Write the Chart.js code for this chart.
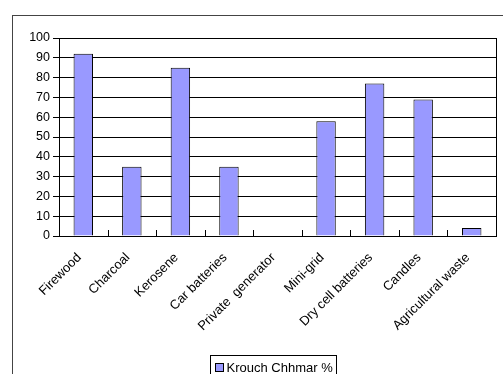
<!DOCTYPE html>
<html>
<head>
<meta charset="utf-8">
<script src="https://cdn.jsdelivr.net/npm/chart.js@4"></script>
<style>
  body { margin: 0; background: #fff; }
  #wrap { width: 503px; height: 374px; }
</style>
</head>
<body>
<div id="wrap"><canvas id="chart" width="503" height="374"></canvas></div>
<script>
// Dados do gráfico
const categories = ['Firewood', 'Charcoal', 'Kerosene', 'Car batteries', 'Private  generator',
  'Mini-grid', 'Dry cell batteries', 'Candles', 'Agricultural waste'];
const seriesName = 'Krouch Chhmar %';
const values = [92, 35, 85, 35, 0, 58, 77, 69, 4];
const yTicks = [0, 10, 20, 30, 40, 50, 60, 70, 80, 90, 100];

const FONT = 'Liberation Sans, Arial, sans-serif';

// moldura externa, borda da área do gráfico, marcas internas do eixo x e legenda
const decor = {
  id: 'decor',
  beforeDraw(chart) {
    const ctx = chart.ctx;
    ctx.save();
    ctx.strokeStyle = '#444';
    ctx.lineWidth = 1;
    ctx.strokeRect(12.5, 15.5, 520, 400);
    ctx.restore();
  },
  afterDraw(chart) {
    const ctx = chart.ctx;
    const a = chart.chartArea;
    const x = chart.scales.x;
    ctx.save();
    ctx.strokeStyle = '#000';
    ctx.lineWidth = 1;
    ctx.strokeRect(Math.round(a.left) + 0.5, Math.round(a.top) + 0.5,
      Math.round(a.right - a.left), Math.round(a.bottom - a.top));
    ctx.beginPath();
    for (let i = 1; i < categories.length; i++) {
      const px = Math.round(x.getPixelForValue(i - 0.5)) + 0.5;
      ctx.moveTo(px, a.bottom);
      ctx.lineTo(px, a.bottom - 6);
    }
    ctx.stroke();

    // legenda
    const ds = chart.data.datasets[0];
    ctx.font = '13px ' + FONT;
    const tw = ctx.measureText(ds.label).width;
    const boxW = tw + 20;
    const bx = 210.5;
    const by = 355.5;
    ctx.strokeStyle = '#000';
    ctx.strokeRect(bx, by, Math.round(boxW), 30);
    ctx.fillStyle = ds.backgroundColor;
    ctx.fillRect(bx + 5, by + 8, 8, 8);
    ctx.strokeRect(bx + 5, by + 8, 8, 8);
    ctx.fillStyle = '#000';
    ctx.textBaseline = 'middle';
    ctx.fillText(ds.label, bx + 16, by + 12.5);
    ctx.restore();
  }
};

new Chart(document.getElementById('chart').getContext('2d'), {
  type: 'bar',
  data: {
    labels: categories,
    datasets: [{
      label: seriesName,
      data: values,
      backgroundColor: '#9999FF',
      borderColor: '#000',
      borderWidth: 1,
      categoryPercentage: 1,
      barPercentage: 0.4
    }]
  },
  options: {
    responsive: false,
    animation: false,
    layout: { padding: { left: 0, top: 38, right: 7, bottom: 0 } },
    plugins: { legend: { display: false }, tooltip: { enabled: false } },
    scales: {
      x: {
        offset: true,
        grid: { display: false },
        border: { display: true, color: '#000' },
        ticks: {
          autoSkip: false, minRotation: 45, maxRotation: 45, padding: 6, labelOffset: -4,
          color: '#000', font: { family: FONT, size: 13 }
        },
        afterFit: s => { s.height = 138; }
      },
      y: {
        min: 0, max: 100,
        afterBuildTicks: s => { s.ticks = yTicks.map(v => ({ value: v })); },
        grid: { color: '#000', lineWidth: 1, tickLength: 6 },
        border: { display: true, color: '#000' },
        ticks: { color: '#000', padding: 3, font: { family: FONT, size: 12.5 } },
        afterFit: s => { s.width = 59; }
      }
    }
  },
  plugins: [decor]
});
</script>
</body>
</html>
